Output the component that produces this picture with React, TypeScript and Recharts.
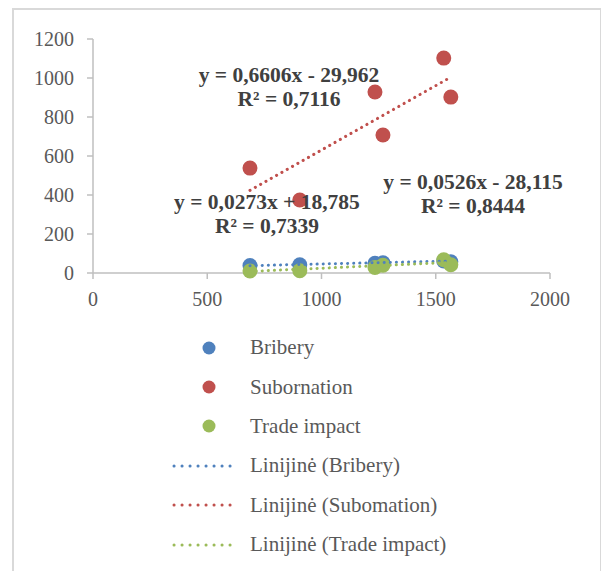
import { ScatterChart, Scatter, XAxis, YAxis } from 'recharts'

const seriesNames = ['Bribery', 'Subornation', 'Trade impact']
const seriesColors = ['#4F81BD', '#C0504D', '#9BBB59']
const xValues = [687, 905, 1234, 1269, 1535, 1566]
const bribery = [38, 42, 50, 52, 62, 58]
const subornation = [538, 374, 928, 708, 1102, 902]
const tradeImpact = [10, 12, 28, 40, 68, 42]
// trendline coefficients as printed on the chart
const slopes = [0.0273, 0.6606, 0.0526]
const intercepts = [18.785, -29.962, -28.115]
const equations = ['y = 0,0273x + 18,785', 'y = 0,6606x - 29,962', 'y = 0,0526x - 28,115']
const rSquared = ['R² = 0,7339', 'R² = 0,7116', 'R² = 0,8444']
const xTicks = [0, 500, 1000, 1500, 2000]
const yTicks = [0, 200, 400, 600, 800, 1000, 1200]

const allSeries = [bribery, subornation, tradeImpact]
const pointData = allSeries.map((ys) => ys.map((y, i) => ({ x: xValues[i], y })))
const xMin = Math.min(...xValues)
const xMax = Math.max(...xValues)
const trendData = slopes.map((a, i) => [
  { x: xMin, y: a * xMin + intercepts[i] },
  { x: xMax, y: a * xMax + intercepts[i] },
])

const serif = '"Liberation Serif", "Times New Roman", serif'
const textGray = '#595959'
const axisGray = '#bfbfbf'

// where the equation labels sit (center x, middle y of the first line)
const labelPos = [
  { x: 267, y: 203 },
  { x: 289, y: 76 },
  { x: 473, y: 183 },
]

const Dot = (props: any) => {
  const { cx, cy, fill } = props
  if (cx == null || cy == null) return <g />
  return <circle cx={cx} cy={cy} r={7.5} fill={fill} />
}

const NoDot = () => <g />

const XTick = ({ x, y, payload }: any) => (
  <text x={x} y={y + 25} textAnchor="middle" fill={textGray} style={{ fontSize: 20, fontFamily: serif }}>
    {payload.value}
  </text>
)

const YTick = ({ x, y, payload }: any) => (
  <text x={x - 11} y={y + 7} textAnchor="end" fill={textGray} style={{ fontSize: 20, fontFamily: serif }}>
    {payload.value}
  </text>
)

export default function App() {
  return (
    <div style={{ position: 'fixed', left: 0, top: 0, width: 601, height: 571, overflow: 'hidden', background: '#fff', fontFamily: serif }}>
      <div style={{ position: 'absolute', left: 12, top: 8, width: 586, height: 620, border: '2px solid #d9d9d9' }} />
      <div style={{ position: 'absolute', left: 0, top: 0 }}>
        <ScatterChart width={601} height={320} margin={{ top: 39, right: 51, left: 33, bottom: 17 }}>
          <XAxis
            type="number"
            dataKey="x"
            domain={[0, 2000]}
            ticks={xTicks}
            height={30}
            stroke={axisGray}
            strokeWidth={1.5}
            tickSize={6}
            tick={XTick}
          />
          <YAxis
            type="number"
            dataKey="y"
            domain={[0, 1200]}
            ticks={yTicks}
            width={60}
            stroke={axisGray}
            strokeWidth={1.5}
            tickSize={6}
            tick={YTick}
          />
          {pointData.map((d, i) => (
            <Scatter key={seriesNames[i]} name={seriesNames[i]} data={d} fill={seriesColors[i]} shape={Dot} isAnimationActive={false} />
          ))}
          {trendData.map((d, i) => (
            <Scatter
              key={'trend' + i}
              data={d}
              fill="none"
              line={{ stroke: seriesColors[i], strokeWidth: 3, strokeDasharray: '0.1 6', strokeLinecap: 'round' }}
              lineType="joint"
              shape={NoDot}
              isAnimationActive={false}
            />
          ))}
        </ScatterChart>
      </div>
      {labelPos.map((p, i) => (
        <div
          key={'eq' + i}
          style={{
            position: 'absolute',
            left: p.x - 120,
            top: p.y - 13,
            width: 240,
            textAlign: 'center',
            fontWeight: 'bold',
            fontSize: 21.5,
            lineHeight: '24px',
            color: '#404040',
            whiteSpace: 'nowrap',
          }}
        >
          <div>{equations[i]}</div>
          <div>{rSquared[i]}</div>
        </div>
      ))}
      <div style={{ position: 'absolute', left: 170, top: 328 }}>
        {seriesNames.map((n, i) => (
          <div key={n} style={{ display: 'flex', alignItems: 'center', height: 39.4 }}>
            <svg width={72} height={20}>
              <circle cx={39} cy={10} r={6.5} fill={seriesColors[i]} />
            </svg>
            <span style={{ marginLeft: 8, fontSize: 21, color: textGray }}>{n}</span>
          </div>
        ))}
        {seriesNames.map((n, i) => (
          <div key={'l' + n} style={{ display: 'flex', alignItems: 'center', height: 39.4 }}>
            <svg width={72} height={20}>
              <line x1={4} y1={10} x2={68} y2={10} stroke={seriesColors[i]} strokeWidth={3} strokeDasharray="0.1 7.9" strokeLinecap="round" />
            </svg>
            <span style={{ marginLeft: 8, fontSize: 21, color: textGray }}>Linijinė ({n === 'Subornation' ? 'Subomation' : n})</span>
          </div>
        ))}
      </div>
    </div>
  )
}
